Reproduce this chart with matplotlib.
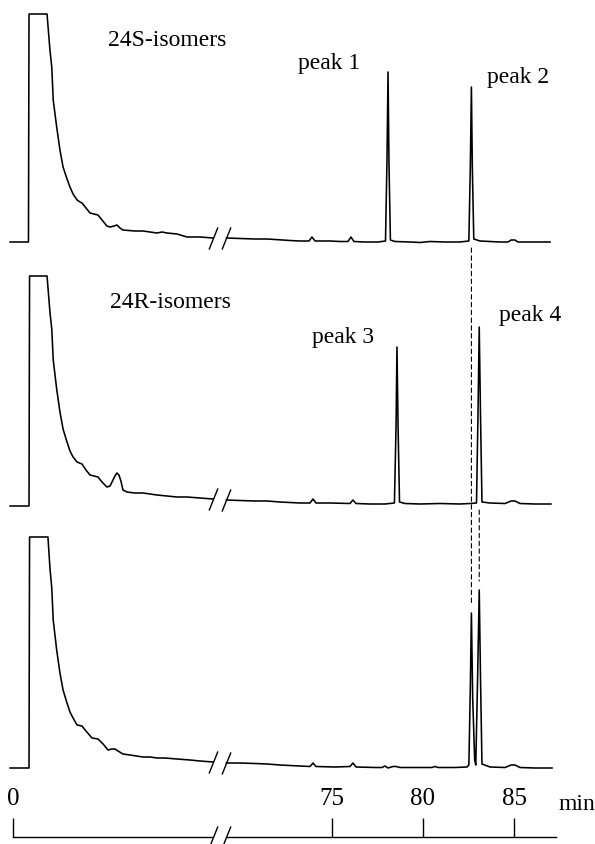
import numpy as np
import matplotlib
matplotlib.use('Agg')
import matplotlib.pyplot as plt
from matplotlib.patches import ConnectionPatch
from matplotlib.path import Path
from matplotlib import transforms

plt.rcParams['font.family'] = ['Liberation Serif', 'DejaVu Serif']

# time axis is cut between these two times (min)
t_cut_left = 11.0
t_cut_right = 69.2
t_axis_end = 87.3

# 24S-isomers (peak 1, peak 2)
t_24s = [-0.16, 0.85, 0.88, 1.87, 2.03, 2.13, 2.21, 2.40, 2.58, 2.75,
         2.95, 3.13, 3.30, 3.52, 3.68, 3.79, 4.01, 4.23, 4.45, 4.67,
         4.89, 5.16, 5.33, 5.55, 5.71, 5.88, 6.04, 6.70, 7.14, 7.53,
         7.91, 8.19, 8.46, 9.01, 9.56, 10.27, 11.0,
         69.2, 69.95, 70.77, 71.43, 71.87, 72.69, 73.24, 73.74, 73.90, 74.07,
         74.89, 75.44, 75.88, 76.04, 76.21, 76.81, 77.53, 77.94, 78.02, 78.08,
         78.13, 78.21, 78.46, 79.29, 79.84, 80.38, 81.21, 82.03, 82.52, 82.60,
         82.66, 82.71, 82.79, 83.13, 84.23, 84.67, 84.84, 85.05, 85.22, 85.88,
         86.98]
s_24s = [0, 0, 228, 228, 192, 175, 142, 115, 92, 75,
         64, 55, 48, 42, 40, 39, 34, 29, 28, 27,
         22, 16, 15, 16, 17, 14, 12, 11, 11, 10,
         9, 10, 9, 8, 5, 5, 4,
         4, 3.5, 3, 3, 2.5, 1.5, 1, 1, 5, 1,
         1, 0.5, 0.5, 5, 0.5, 0, 0, 1, 80, 170,
         80, 2, 0.5, 0, -0.5, 0.5, 0, 0, 1, 75,
         155, 75, 3, 1, 0, 0, 2, 2, 0, 0,
         0]

# 24R-isomers (peak 3, peak 4)
t_24r = [-0.16, 0.88, 0.91, 1.87, 2.03, 2.13, 2.21, 2.40, 2.58, 2.75,
         2.95, 3.13, 3.30, 3.52, 3.79, 4.01, 4.23, 4.45, 4.67, 4.89,
         5.16, 5.33, 5.44, 5.60, 5.71, 5.82, 5.93, 6.04, 6.26, 6.70,
         7.14, 7.53, 7.91, 8.46, 9.01, 9.56, 10.27, 11.0,
         69.2, 69.95, 70.77, 71.43, 72.14, 73.24, 73.79, 73.96, 74.12, 74.89,
         75.99, 76.15, 76.32, 77.09, 77.91, 78.43, 78.52, 78.57, 78.63, 78.71,
         79.01, 79.84, 80.93, 82.03, 82.58, 82.94, 83.02, 83.09, 83.16, 83.24,
         83.68, 84.51, 84.84, 85.05, 85.33, 86.15, 87.03]
s_24r = [0, 0, 230, 230, 194, 177, 146, 117, 94, 77,
         65, 55, 49, 44, 42, 36, 31, 30, 29, 24,
         19, 20, 24, 30, 33, 31, 25, 16, 14, 13,
         13, 12, 11, 10, 9, 9, 8, 7,
         6, 5.5, 5, 5, 4, 3, 3, 7, 3, 3,
         2.5, 6, 2.5, 2, 2, 3, 80, 159, 80, 4,
         2.5, 2, 2.5, 2, 2.5, 3, 90, 179, 90, 4,
         3, 2.5, 5, 5, 2.5, 2, 2]

# mixture
t_mix = [-0.16, 0.88, 0.91, 1.92, 2.03, 2.13, 2.21, 2.40, 2.58, 2.75,
         2.95, 3.13, 3.30, 3.52, 3.79, 4.01, 4.34, 4.67, 4.95, 5.22,
         5.44, 5.60, 5.77, 6.04, 6.43, 7.14, 7.53, 7.91, 8.35, 9.01,
         9.73, 10.27, 11.0,
         69.2, 69.95, 70.77, 71.43, 72.14, 73.24, 73.79, 73.96, 74.12, 75.16,
         75.99, 76.15, 76.32, 77.36, 77.75, 77.91, 78.08, 78.35, 78.52, 78.74,
         79.84, 80.49, 80.66, 80.82, 81.76, 82.42, 82.52, 82.60, 82.66, 82.73,
         82.84, 82.90, 83.00, 83.09, 83.16, 83.24, 83.68, 84.51, 84.84, 85.05,
         85.33, 86.15, 87.09]
s_mix = [0, 0, 231, 231, 200, 180, 148, 118, 95, 78,
         66, 56, 50, 43, 42, 37, 30, 29, 24, 18,
         19, 19, 17, 14, 13, 11, 11, 10, 10, 9,
         8, 7, 6,
         5, 5, 4.5, 4, 3, 2, 1.5, 5, 1.5, 1,
         1.5, 5, 1, 0.5, 0.5, 2, 0, 1.5, 1.5, 0.5,
         0.5, 0.5, 1.5, 0.5, 0.5, 1, 3, 80, 155, 70,
         8, 3, 90, 178, 90, 4, 1, 0.5, 3, 3,
         0.5, 0, 0]

# labels: (text, time, signal)
labels_24s = [('24S-isomers', 5.22, 202), ('peak 1', 73.13, 179), ('peak 2', 83.52, 165)]
labels_24r = [('24R-isomers', 5.33, 204), ('peak 3', 73.90, 168), ('peak 4', 84.18, 191)]

tick_vals = [0, 75, 80, 85]
tick_labels = ['0', '75', '80', '85']

# dashed guides between the peaks
guide_times = [82.66, 83.09]


gap = 0.725
knots_t = [-10, t_cut_left, t_cut_right, 100]
knots_u = [-10, t_cut_left, t_cut_left + gap, t_cut_left + gap + 100 - t_cut_right]


def fwd(t):
    return np.interp(t, knots_t, knots_u)


def inv(u):
    return np.interp(u, knots_u, knots_t)


slash = Path([(-0.4, -1), (0.4, 1)])
xlim = (-0.714, 89.45)
H = 844

fig = plt.figure(figsize=(5.95, 8.44), dpi=100)

traces = [(t_24s, s_24s, labels_24s, 242),
          (t_24r, s_24r, labels_24r, 506),
          (t_mix, s_mix, [], 768)]
axes = []
for t, s, labs, base in traces:
    ax = fig.add_axes([0, (H - base - 10) / H, 1, 250 / H])
    ax.set_xscale('function', functions=(fwd, inv))
    ax.set_xlim(xlim)
    ax.set_ylim(-10, 240)
    ax.axis('off')
    t = np.array(t)
    s = np.array(s)
    early = t <= t_cut_left
    late = t >= t_cut_right
    ax.plot(t[early], s[early], color='black', lw=1.15)
    ax.plot(t[late], s[late], color='black', lw=1.15)
    ax.plot([t_cut_left, t_cut_right], [s[early][-1], s[late][0]], ls='none',
            marker=slash, ms=16, mec='black', mfc='none', mew=1.0, clip_on=False)
    for txt, x, y in labs:
        ax.text(x, y, txt, fontsize=17, ha='left', va='center')
    axes.append(ax)

# dashed lines linking the peaks
con1 = ConnectionPatch(xyA=(guide_times[0], -6), coordsA=axes[0].transData,
                       xyB=(guide_times[0], 163), coordsB=axes[2].transData,
                       color='black', lw=0.8, linestyle=(0, (4, 3)))
con2 = ConnectionPatch(xyA=(guide_times[1], -4), coordsA=axes[1].transData,
                       xyB=(guide_times[1], 187), coordsB=axes[2].transData,
                       color='black', lw=0.8, linestyle=(0, (4, 3)))
fig.add_artist(con1)
fig.add_artist(con2)

# time axis
axb = fig.add_axes([0, (H - 837) / H, 1, 20 / H])
axb.set_xscale('function', functions=(fwd, inv))
axb.set_xlim(xlim)
axb.set_ylim(0, 1)
for sp in axb.spines.values():
    sp.set_visible(False)
axb.plot([0, t_cut_left], [0, 0], color='black', lw=1.0, clip_on=False)
axb.plot([t_cut_right, t_axis_end], [0, 0], color='black', lw=1.0, clip_on=False)
axb.plot([t_cut_left, t_cut_right], [0, 0], ls='none', marker=slash, ms=16,
         mec='black', mfc='none', mew=1.0, clip_on=False)
axb.set_xticks(tick_vals)
axb.set_xticklabels(tick_labels)
axb.set_yticks([])
axb.tick_params(axis='x', direction='in', length=14, width=1.0, bottom=True, top=False,
                labelbottom=False, labeltop=True, labelsize=18, pad=5)
trans = transforms.blended_transform_factory(axb.transData, axb.transAxes)
axb.text(87.42, 1.35, 'min', transform=trans, fontsize=17, ha='left', va='baseline')

fig.savefig('out.png', dpi=100)
